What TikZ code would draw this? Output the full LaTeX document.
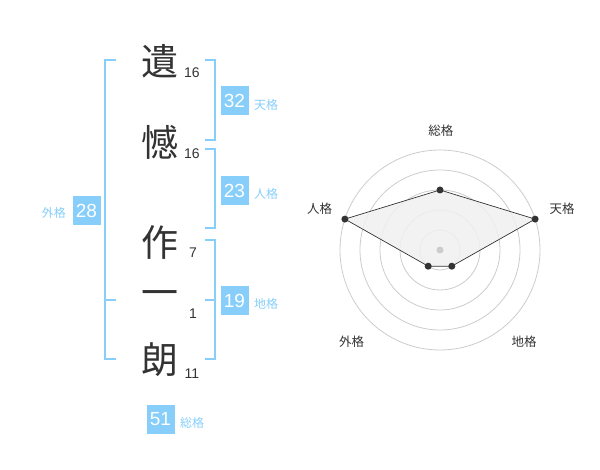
\documentclass[tikz,border=0pt]{standalone}
\usepackage{fontspec}
\setmainfont{Liberation Sans}
\newfontfamily\cjk{Noto Sans CJK JP}
\definecolor{sky}{RGB}{135,206,250}
\definecolor{ink}{RGB}{51,51,51}
\definecolor{ring}{RGB}{204,204,204}
\definecolor{area}{RGB}{240,240,240}
\begin{document}
\begin{tikzpicture}[x=1pt,y=-1pt,
  bigch/.style={font=\cjk\fontsize{37}{40}\selectfont, text=ink, inner sep=0},
  strokes/.style={font=\fontsize{14}{16}\selectfont, text=ink, inner sep=0, anchor=base},
  numbox/.style={fill=sky, text=white, minimum width=28pt, minimum height=29pt, inner sep=0, font=\fontsize{19}{20}\selectfont},
  kaku/.style={font=\cjk\fontsize{12}{14}\selectfont, text=sky, inner sep=0, anchor=west},
  brk/.style={draw=sky, line width=2pt},
  rlabel/.style={font=\cjk\fontsize{12.5}{14}\selectfont, text=ink, inner sep=0},
  ringc/.style={draw=ring, line width=0.8pt},
  dot/.style={circle, fill=ink, inner sep=0, minimum size=7pt}
]
\useasboundingbox (0,0) rectangle (600,470);

% name characters
\node[bigch] (c1) at (160,61) {遺};
\node[bigch] (c2) at (160,142.5) {憾};
\node[bigch] (c3) at (160,242.5) {作};
\node[bigch] (c4) at (160,298.3) {一};
\node[bigch] (c5) at (160,360) {朗};

\node[strokes] (s1) at (192,77.7) {16};
\node[strokes] (s2) at (192,158.3) {16};
\node[strokes] (s3) at (193,257.3) {7};
\node[strokes] (s4) at (193,318.3) {1};
\node[strokes] (s5) at (192,378.3) {11};

% brackets
\draw[brk] (116,60) -- (105,60) -- (105,359.5) -- (116,359.5);
\draw[brk] (105,300) -- (116,300);
\draw[brk] (205,60) -- (214.5,60) -- (214.5,140) -- (205,140);
\draw[brk] (205,149.5) -- (214.5,149.5) -- (214.5,228.5) -- (205,228.5);
\draw[brk] (205,240) -- (214.5,240) -- (214.5,359.5) -- (205,359.5);
\draw[brk] (205,300) -- (214.5,300);

% boxes
\node[numbox] (ten) at (234.5,100.5) {32};
\node[kaku] (tenl) at (254,104.5) {天格};
\node[numbox] (jin) at (234.5,190.5) {23};
\node[kaku] (jinl) at (254,194) {人格};
\node[numbox] (chi) at (234.5,300.5) {19};
\node[kaku] (chil) at (254,304) {地格};
\node[numbox] (gai) at (86.5,210.5) {28};
\node[kaku] (gail) at (41.7,213.3) {外格};
\node[numbox] (sou) at (160.5,419) {51};
\node[kaku] (soul) at (180,422.7) {総格};

% radar
\coordinate (O) at (440,250);
\foreach \r in {20,40,60,80,100} \draw[ringc] (O) circle[radius=\r];
\coordinate (pS) at (440,190);
\coordinate (pT) at (535.1,219.1);
\coordinate (pC) at (451.8,266.2);
\coordinate (pG) at (428.2,266.2);
\coordinate (pJ) at (344.9,219.1);
\draw[fill=area, fill opacity=0.85, draw=ink, line width=0.7pt] (pS) -- (pT) -- (pC) -- (pG) -- (pJ) -- cycle;
\node[circle, fill=ring, inner sep=0, minimum size=7pt] (ctr) at (O) {};
\foreach \p in {pS,pT,pC,pG,pJ} \node[dot] at (\p) {};

\node[rlabel] (lS) at (440.8,130.7) {総格};
\node[rlabel] (lT) at (562,208.3) {天格};
\node[rlabel] (lJ) at (319.5,208.3) {人格};
\node[rlabel] (lG) at (351.5,341.7) {外格};
\node[rlabel] (lC) at (524,341.7) {地格};
\end{tikzpicture}
\end{document}
